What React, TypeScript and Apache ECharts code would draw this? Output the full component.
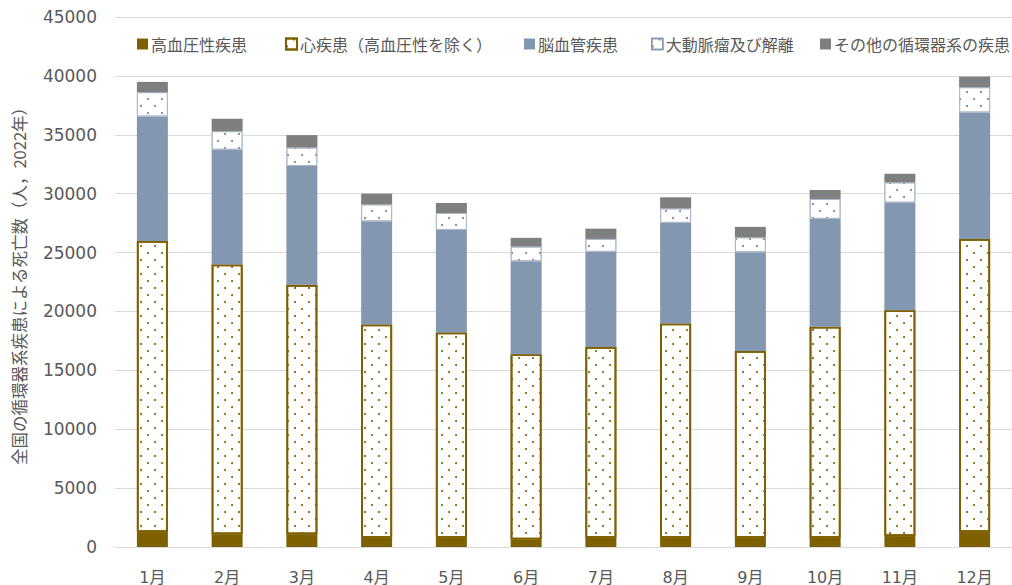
import React, { useEffect, useRef } from "react";
import * as echarts from "echarts";

const months = ["1月", "2月", "3月", "4月", "5月", "6月", "7月", "8月", "9月", "10月", "11月", "12月"];
const hypertension = [1270, 1070, 1070, 790, 790, 640, 790, 790, 790, 790, 930, 1270];
const heart = [24720, 22910, 21190, 18110, 17430, 15720, 16190, 18190, 15850, 17910, 19180, 24890];
const cerebro = [10560, 9750, 10090, 8750, 8700, 7900, 8080, 8540, 8390, 9160, 9130, 10730];
const aorta = [2070, 1580, 1570, 1440, 1440, 1250, 1100, 1230, 1270, 1690, 1720, 2150];
const other = [870, 1050, 1050, 910, 850, 740, 870, 940, 880, 760, 730, 900];

const seriesNames = [
  "高血圧性疾患",
  "心疾患（高血圧性を除く）",
  "脳血管疾患",
  "大動脈瘤及び解離",
  "その他の循環器系の疾患",
];
const legendLefts = [132, 280, 519, 646, 815];
const yAxisTitle = "全国の循環器系疾患による死亡数（人，2022年）";

const NUM_FONT = "'DejaVu Sans', 'Noto Sans CJK JP', sans-serif";
const JP_FONT = "'Noto Sans CJK JP', sans-serif";

const dotDecal = (color: string) => ({
  symbol: "circle",
  symbolSize: 1,
  color,
  dashArrayX: [[2, 12], [0, 7, 2, 5]],
  dashArrayY: [2, 5],
  rotation: 0,
});

export default function App() {
  const ref = useRef<HTMLDivElement>(null);
  useEffect(() => {
    if (!ref.current) return;
    const chart = echarts.init(ref.current, null, { renderer: "svg" });
    const legendIcons = [
      { color: "#7F6000" },
      { color: "#FFFFFF", borderColor: "#7F6000", borderWidth: 2 },
      { color: "#8497B0" },
      { color: "#FFFFFF", borderColor: "#8497B0", borderWidth: 1.5 },
      { color: "#7F7F7F" },
    ];
    const legends = seriesNames.map((name, i) => ({
      show: true,
      left: legendLefts[i],
      top: 31,
      itemWidth: 11,
      itemHeight: 11,
      itemGap: 0,
      icon: "rect",
      data: [{ name, icon: "rect", itemStyle: legendIcons[i] }],
      textStyle: { fontFamily: JP_FONT, fontSize: 16, color: "#595959", padding: [0, 0, 0, -2] },
      selectedMode: false,
    }));
    const barW = 31;
    chart.setOption({
      animation: false,
      backgroundColor: "#FFFFFF",
      legend: legends,
      grid: { left: 115, right: -7, top: 17, bottom: 37, containLabel: false },
      xAxis: {
        type: "category",
        data: months,
        axisLine: { show: true, lineStyle: { color: "#D9D9D9", width: 1 } },
        axisTick: { show: false },
        axisLabel: { color: "#595959", fontFamily: NUM_FONT, fontSize: 16, margin: 22 },
      },
      yAxis: {
        type: "value",
        min: 0,
        max: 45000,
        interval: 5000,
        name: yAxisTitle,
        nameLocation: "middle",
        nameRotate: 90,
        nameGap: 88,
        nameTextStyle: { fontFamily: JP_FONT, fontSize: 16.5, color: "#595959" },
        axisLine: { show: false },
        axisTick: { show: false },
        axisLabel: {
          color: "#595959",
          fontFamily: NUM_FONT,
          fontSize: 17,
          margin: 18,
          formatter: (v: number) => String(v),
        },
        splitLine: { lineStyle: { color: "#D9D9D9", width: 1 } },
      },
      series: [
        {
          name: seriesNames[0],
          type: "bar",
          stack: "total",
          barWidth: barW,
          data: hypertension,
          itemStyle: { color: "#7F6000" },
        },
        {
          name: seriesNames[1],
          type: "bar",
          stack: "total",
          barWidth: barW,
          data: heart,
          itemStyle: {
            color: "#FFFFFF",
            borderColor: "#7F6000",
            borderWidth: 1.8,
            decal: dotDecal("#7F6000"),
          },
        },
        {
          name: seriesNames[2],
          type: "bar",
          stack: "total",
          barWidth: barW,
          data: cerebro,
          itemStyle: { color: "#8497B0" },
        },
        {
          name: seriesNames[3],
          type: "bar",
          stack: "total",
          barWidth: barW,
          data: aorta,
          itemStyle: {
            color: "#FFFFFF",
            borderColor: "#ADB9CA",
            borderWidth: 1,
            decal: dotDecal("#7F7F7F"),
          },
        },
        {
          name: seriesNames[4],
          type: "bar",
          stack: "total",
          barWidth: barW,
          data: other,
          itemStyle: { color: "#7F7F7F" },
        },
      ],
    });
    return () => chart.dispose();
  }, []);
  return (
    <div
      ref={ref}
      style={{ position: "absolute", left: 0, top: 0, width: 1012, height: 585 }}
    />
  );
}
